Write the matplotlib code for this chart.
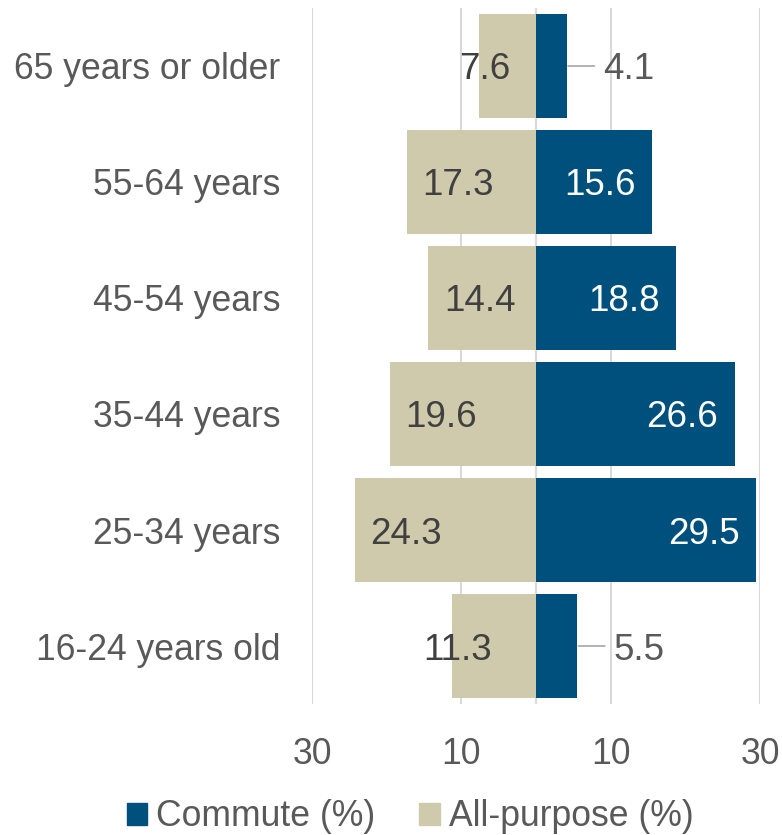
import numpy as np
import matplotlib.pyplot as plt

plt.rcParams['font.family'] = ['Liberation Sans', 'DejaVu Sans']

# categorias de cima para baixo
faixas = ["65 years or older", "55-64 years", "45-54 years",
          "35-44 years", "25-34 years", "16-24 years old"]
commute = [4.1, 15.6, 18.8, 26.6, 29.5, 5.5]
all_purpose = [7.6, 17.3, 14.4, 19.6, 24.3, 11.3]

ticks_x = [-30, -10, 10, 30]
ticks_lbl = ["30", "10", "10", "30"]

azul = "#00507D"
bege = "#CFCAAB"
cinza = "#595959"

fig = plt.figure(figsize=(7.82, 8.35), dpi=100)
ax = fig.add_axes([312 / 782, 1 - 704 / 835, (760 - 312) / 782, (704 - 8) / 835])

y = np.arange(len(faixas))
fs = 25.6
fs_rot = 26.5

ax.barh(y, [-v for v in all_purpose], height=0.9, color=bege, zorder=2)
ax.barh(y, commute, height=0.9, color=azul, zorder=2)

# rótulos do all-purpose
for yi, v in zip(y, all_purpose):
    if v < 12:
        ax.annotate(f"{v}", (-v, yi), xytext=(4, 0), textcoords="offset points",
                    ha="center", va="center_baseline", fontsize=fs_rot, color="#404040", zorder=3)
    else:
        ax.annotate(f"{v}", (-v, yi), xytext=(11, 0), textcoords="offset points",
                    ha="left", va="center_baseline", fontsize=fs_rot, color="#404040", zorder=3)

# rótulos do commute (os pequenos ficam fora, com linha guia)
for yi, v in zip(y, commute):
    if v < 10:
        ax.annotate(f"{v}", (v, yi), xytext=(26, 0), textcoords="offset points",
                    ha="left", va="center_baseline", fontsize=fs_rot, color=cinza, zorder=3)
        ax.annotate("", xy=(v, yi), xytext=(20, 0), textcoords="offset points",
                    arrowprops=dict(arrowstyle="-", color="#A6A6A6", lw=1.2,
                                    shrinkA=0, shrinkB=1), zorder=3)
    else:
        ax.annotate(f"{v}", (v, yi), xytext=(-12, 0), textcoords="offset points",
                    ha="right", va="center_baseline", fontsize=fs_rot, color="white", zorder=3)

ax.set_xlim(-30, 30)
ax.set_ylim(len(faixas) - 0.5, -0.5)
ax.set_yticks(y)
ax.set_yticklabels(faixas)
ax.set_xticks(ticks_x)
ax.set_xticklabels(ticks_lbl)
ax.tick_params(axis="y", length=0, pad=23, labelsize=fs, labelcolor=cinza)
ax.tick_params(axis="x", length=0, pad=24, labelsize=fs, labelcolor=cinza)

for xv in ticks_x:
    ax.axvline(xv, color="#D9D9D9", lw=1.5, zorder=1)
ax.axvline(0, color="#D9D9D9", lw=1.5, zorder=1)
for s in ax.spines.values():
    s.set_visible(False)

handles = [plt.Rectangle((0, 0), 1, 1, color=azul), plt.Rectangle((0, 0), 1, 1, color=bege)]
fig.legend(handles, ["Commute (%)", "All-purpose (%)"], loc="center",
           bbox_to_anchor=(410 / 782, 1 - 817 / 835), ncol=2, frameon=False,
           fontsize=fs, labelcolor=cinza, handlelength=0.57, handleheight=0.57,
           handletextpad=0.25, columnspacing=1.25)

fig.savefig("out.png", dpi=100)
